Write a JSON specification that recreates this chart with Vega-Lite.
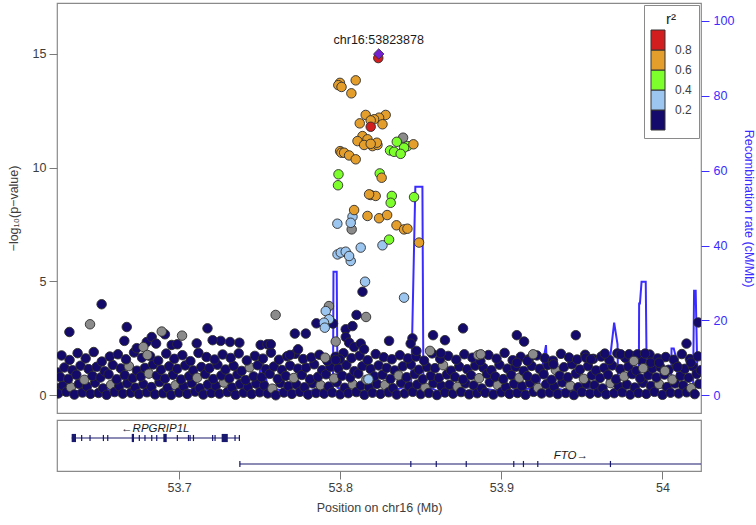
{
"$schema": "https://vega.github.io/schema/vega-lite/v6.json",
"padding": {"left": 6, "top": 2, "right": 0, "bottom": 0},
"spacing": 5,
"config": {
 "font": "Liberation Sans",
 "view": {"stroke": "#8a8a8a", "strokeWidth": 1.2},
 "axis": {"labelFontSize": 12.5, "titleFontSize": 12.5, "labelColor": "#3d3d3d", "titleColor": "#3d3d3d", "titleFontWeight": "normal", "tickColor": "#7a7a7a", "tickSize": 8, "grid": false, "domain": false, "labelFont": "Liberation Sans", "titleFont": "Liberation Sans"}
},
"datasets": {
 "recomb": [
  {"p":53.6242,"rate":1.0},{"p":53.6300,"rate":0.6},{"p":53.6400,"rate":1.4},{"p":53.6500,"rate":0.7},{"p":53.6600,"rate":1.8},{"p":53.6700,"rate":0.9},{"p":53.6800,"rate":1.3},{"p":53.6900,"rate":0.5},{"p":53.7000,"rate":2.2},{"p":53.7100,"rate":1.0},{"p":53.7200,"rate":1.6},{"p":53.7300,"rate":0.8},{"p":53.7400,"rate":2.4},{"p":53.7490,"rate":3.0},{"p":53.7513,"rate":9.7},{"p":53.7532,"rate":6.5},{"p":53.7550,"rate":2.0},{"p":53.7650,"rate":1.2},{"p":53.7750,"rate":0.8},{"p":53.7850,"rate":1.5},{"p":53.7955,"rate":1.8},{"p":53.7958,"rate":33.0},{"p":53.7978,"rate":33.0},{"p":53.7983,"rate":2.0},{"p":53.8050,"rate":1.0},{"p":53.8150,"rate":0.7},{"p":53.8250,"rate":0.9},{"p":53.8350,"rate":1.5},{"p":53.8440,"rate":3.0},{"p":53.8466,"rate":55.7},{"p":53.8510,"rate":55.7},{"p":53.8516,"rate":3.0},{"p":53.8600,"rate":1.2},{"p":53.8700,"rate":2.0},{"p":53.8800,"rate":1.0},{"p":53.8900,"rate":1.8},{"p":53.9000,"rate":0.9},{"p":53.9100,"rate":1.5},{"p":53.9230,"rate":2.0},{"p":53.9277,"rate":13.4},{"p":53.9287,"rate":2.5},{"p":53.9400,"rate":1.2},{"p":53.9550,"rate":2.0},{"p":53.9655,"rate":2.5},{"p":53.9700,"rate":19.4},{"p":53.9721,"rate":13.6},{"p":53.9724,"rate":3.0},{"p":53.9800,"rate":2.0},{"p":53.9853,"rate":2.5},{"p":53.9855,"rate":24.5},{"p":53.9860,"rate":24.5},{"p":53.9870,"rate":30.3},{"p":53.9896,"rate":30.3},{"p":53.9903,"rate":2.5},{"p":54.0000,"rate":2.0},{"p":54.0054,"rate":2.5},{"p":54.0056,"rate":12.5},{"p":54.0070,"rate":12.5},{"p":54.0089,"rate":9.2},{"p":54.0095,"rate":2.5},{"p":54.0150,"rate":2.0},{"p":54.0190,"rate":2.5},{"p":54.0196,"rate":27.9},{"p":54.0206,"rate":27.9},{"p":54.0218,"rate":2.5},{"p":54.0239,"rate":2.0}
 ],
 "snps": [
  {"p":53.6243,"l":0.30,"r":0.1},{"p":53.6245,"l":1.00,"r":0.1},
  {"p":53.6250,"l":0.08,"r":0.1},{"p":53.6278,"l":0.42,"r":0.1},{"p":53.6262,"l":0.80,"r":0.1},{"p":53.6288,"l":1.22,"r":0.1},{"p":53.6270,"l":1.75,"r":0.1},
  {"p":53.6300,"l":0.15,"r":0.1},{"p":53.6328,"l":0.35,"r":null},{"p":53.6312,"l":0.72,"r":0.1},{"p":53.6338,"l":1.10,"r":0.1},{"p":53.6320,"l":1.55,"r":0.1},
  {"p":53.6350,"l":0.03,"r":0.1},{"p":53.6378,"l":0.50,"r":0.1},{"p":53.6362,"l":0.90,"r":0.1},{"p":53.6388,"l":1.30,"r":0.1},{"p":53.6370,"l":1.85,"r":0.1},
  {"p":53.6400,"l":0.12,"r":0.1},{"p":53.6428,"l":0.38,"r":0.1},{"p":53.6412,"l":0.68,"r":null},{"p":53.6438,"l":1.15,"r":0.1},{"p":53.6420,"l":1.62,"r":0.1},
  {"p":53.6450,"l":0.06,"r":0.1},{"p":53.6478,"l":0.55,"r":0.1},{"p":53.6462,"l":0.85,"r":0.1},{"p":53.6488,"l":1.25,"r":0.1},{"p":53.6470,"l":1.90,"r":0.1},
  {"p":53.6500,"l":0.10,"r":0.1},{"p":53.6528,"l":0.30,"r":0.1},{"p":53.6512,"l":0.78,"r":0.1},{"p":53.6538,"l":1.05,"r":0.1},{"p":53.6520,"l":1.48,"r":0.1},
  {"p":53.6550,"l":0.02,"r":0.1},{"p":53.6578,"l":0.46,"r":null},{"p":53.6562,"l":0.92,"r":0.1},{"p":53.6588,"l":1.33,"r":0.1},{"p":53.6570,"l":1.70,"r":0.1},
  {"p":53.6600,"l":0.14,"r":0.1},{"p":53.6628,"l":0.40,"r":0.1},{"p":53.6612,"l":0.70,"r":0.1},{"p":53.6638,"l":1.18,"r":0.1},{"p":53.6620,"l":1.80,"r":0.1},
  {"p":53.6650,"l":0.07,"r":0.1},{"p":53.6678,"l":0.52,"r":0.1},{"p":53.6662,"l":0.88,"r":0.1},{"p":53.6688,"l":1.28,"r":null},{"p":53.6670,"l":1.58,"r":0.1},
  {"p":53.6700,"l":0.11,"r":0.1},{"p":53.6728,"l":0.33,"r":0.1},{"p":53.6712,"l":0.75,"r":0.1},{"p":53.6738,"l":1.08,"r":0.1},{"p":53.6720,"l":1.88,"r":0.1},
  {"p":53.6750,"l":0.05,"r":0.1},{"p":53.6778,"l":0.48,"r":0.1},{"p":53.6762,"l":0.82,"r":0.1},{"p":53.6788,"l":1.20,"r":0.1},{"p":53.6770,"l":1.65,"r":0.1},
  {"p":53.6800,"l":0.13,"r":0.1},{"p":53.6828,"l":0.36,"r":0.1},{"p":53.6812,"l":0.95,"r":null},{"p":53.6838,"l":1.35,"r":0.1},{"p":53.6820,"l":1.72,"r":0.1},
  {"p":53.6850,"l":0.04,"r":0.1},{"p":53.6878,"l":0.58,"r":0.1},{"p":53.6862,"l":0.86,"r":0.1},{"p":53.6888,"l":1.12,"r":0.1},{"p":53.6870,"l":1.52,"r":0.1},
  {"p":53.6900,"l":0.09,"r":0.1},{"p":53.6928,"l":0.32,"r":0.1},{"p":53.6912,"l":0.73,"r":0.1},{"p":53.6938,"l":1.27,"r":0.1},{"p":53.6920,"l":1.83,"r":0.1},
  {"p":53.6950,"l":0.01,"r":0.1},{"p":53.6978,"l":0.44,"r":null},{"p":53.6962,"l":0.90,"r":0.1},{"p":53.6988,"l":1.16,"r":0.1},{"p":53.6970,"l":1.60,"r":0.1},
  {"p":53.7000,"l":0.12,"r":0.1},{"p":53.7028,"l":0.39,"r":0.1},{"p":53.7012,"l":0.69,"r":0.1},{"p":53.7038,"l":1.31,"r":0.1},{"p":53.7020,"l":1.76,"r":0.1},
  {"p":53.7050,"l":0.06,"r":0.1},{"p":53.7078,"l":0.53,"r":0.1},{"p":53.7062,"l":0.84,"r":0.1},{"p":53.7088,"l":1.09,"r":0.1},{"p":53.7070,"l":1.50,"r":0.1},
  {"p":53.7100,"l":0.16,"r":0.1},{"p":53.7128,"l":0.31,"r":0.1},{"p":53.7112,"l":0.77,"r":null},{"p":53.7138,"l":1.24,"r":0.1},{"p":53.7120,"l":1.86,"r":0.1},
  {"p":53.7150,"l":0.03,"r":0.1},{"p":53.7178,"l":0.47,"r":0.1},{"p":53.7162,"l":0.93,"r":0.1},{"p":53.7188,"l":1.19,"r":0.1},{"p":53.7170,"l":1.68,"r":0.1},
  {"p":53.7200,"l":0.10,"r":0.1},{"p":53.7228,"l":0.41,"r":0.1},{"p":53.7212,"l":0.71,"r":0.1},{"p":53.7238,"l":1.34,"r":0.1},{"p":53.7220,"l":1.57,"r":0.1},
  {"p":53.7250,"l":0.07,"r":0.1},{"p":53.7278,"l":0.56,"r":null},{"p":53.7262,"l":0.87,"r":0.1},{"p":53.7288,"l":1.13,"r":0.1},{"p":53.7270,"l":1.79,"r":0.1},
  {"p":53.7300,"l":0.14,"r":0.1},{"p":53.7328,"l":0.34,"r":0.1},{"p":53.7312,"l":0.74,"r":0.1},{"p":53.7338,"l":1.29,"r":0.1},{"p":53.7320,"l":1.64,"r":0.1},
  {"p":53.7350,"l":0.02,"r":0.1},{"p":53.7378,"l":0.49,"r":0.1},{"p":53.7362,"l":0.91,"r":0.1},{"p":53.7388,"l":1.07,"r":0.1},{"p":53.7370,"l":1.84,"r":0.1},
  {"p":53.7400,"l":0.11,"r":0.1},{"p":53.7428,"l":0.37,"r":0.1},{"p":53.7412,"l":0.67,"r":0.1},{"p":53.7438,"l":1.23,"r":null},{"p":53.7420,"l":1.53,"r":0.1},
  {"p":53.7450,"l":0.05,"r":0.1},{"p":53.7478,"l":0.51,"r":0.1},{"p":53.7462,"l":0.83,"r":0.1},{"p":53.7488,"l":1.32,"r":0.1},{"p":53.7470,"l":1.73,"r":0.1},
  {"p":53.7500,"l":0.13,"r":0.1},{"p":53.7528,"l":0.43,"r":0.1},{"p":53.7512,"l":0.79,"r":0.1},{"p":53.7538,"l":1.14,"r":0.1},{"p":53.7520,"l":1.61,"r":0.1},
  {"p":53.7550,"l":0.08,"r":0.1},{"p":53.7578,"l":0.29,"r":null},{"p":53.7562,"l":0.94,"r":0.1},{"p":53.7588,"l":1.26,"r":0.1},{"p":53.7570,"l":1.87,"r":0.1},
  {"p":53.7600,"l":0.00,"r":0.1},{"p":53.7628,"l":0.54,"r":0.1},{"p":53.7612,"l":0.72,"r":0.1},{"p":53.7638,"l":1.11,"r":0.1},{"p":53.7620,"l":1.56,"r":0.1},
  {"p":53.7650,"l":0.12,"r":0.1},{"p":53.7678,"l":0.40,"r":0.1},{"p":53.7662,"l":0.85,"r":0.1},{"p":53.7688,"l":1.30,"r":0.1},{"p":53.7670,"l":1.71,"r":0.1},
  {"p":53.7700,"l":0.06,"r":0.1},{"p":53.7728,"l":0.47,"r":0.1},{"p":53.7712,"l":0.76,"r":null},{"p":53.7738,"l":1.17,"r":0.1},{"p":53.7720,"l":1.82,"r":0.1},
  {"p":53.7750,"l":0.15,"r":0.1},{"p":53.7778,"l":0.35,"r":0.1},{"p":53.7762,"l":0.89,"r":0.1},{"p":53.7788,"l":1.21,"r":0.1},{"p":53.7770,"l":1.59,"r":0.1},
  {"p":53.7800,"l":0.03,"r":0.1},{"p":53.7828,"l":0.52,"r":0.1},{"p":53.7812,"l":0.70,"r":0.1},{"p":53.7838,"l":1.36,"r":0.1},{"p":53.7820,"l":1.66,"r":0.1},
  {"p":53.7850,"l":0.10,"r":0.1},{"p":53.7878,"l":0.44,"r":null},{"p":53.7862,"l":0.81,"r":0.1},{"p":53.7888,"l":1.10,"r":0.1},{"p":53.7870,"l":1.78,"r":0.1},
  {"p":53.7900,"l":0.07,"r":0.1},{"p":53.7928,"l":0.38,"r":0.1},{"p":53.7912,"l":0.92,"r":0.1},{"p":53.7938,"l":1.25,"r":0.1},{"p":53.7920,"l":1.51,"r":0.1},
  {"p":53.7950,"l":0.12,"r":0.1},{"p":53.7978,"l":0.57,"r":0.1},{"p":53.7962,"l":0.74,"r":null},{"p":53.7988,"l":1.18,"r":0.1},{"p":53.7970,"l":1.69,"r":0.1},
  {"p":53.8000,"l":0.04,"r":0.1},{"p":53.8028,"l":0.33,"r":0.1},{"p":53.8012,"l":0.86,"r":0.1},{"p":53.8038,"l":1.33,"r":0.1},{"p":53.8020,"l":1.85,"r":0.1},
  {"p":53.8050,"l":0.09,"r":0.1},{"p":53.8078,"l":0.48,"r":null},{"p":53.8062,"l":0.78,"r":0.1},{"p":53.8088,"l":1.06,"r":0.1},{"p":53.8070,"l":1.63,"r":0.1},
  {"p":53.8100,"l":0.14,"r":0.1},{"p":53.8128,"l":0.42,"r":0.1},{"p":53.8112,"l":0.95,"r":0.1},{"p":53.8138,"l":1.28,"r":0.1},{"p":53.8120,"l":1.74,"r":0.1},
  {"p":53.8150,"l":0.02,"r":0.1},{"p":53.8178,"l":0.36,"r":0.1},{"p":53.8162,"l":0.68,"r":null},{"p":53.8188,"l":1.15,"r":0.1},{"p":53.8170,"l":1.54,"r":0.1},
  {"p":53.8200,"l":0.11,"r":0.1},{"p":53.8228,"l":0.50,"r":0.1},{"p":53.8212,"l":0.83,"r":0.1},{"p":53.8238,"l":1.31,"r":0.1},{"p":53.8220,"l":1.81,"r":0.1},
  {"p":53.8250,"l":0.06,"r":0.1},{"p":53.8278,"l":0.45,"r":null},{"p":53.8262,"l":0.90,"r":0.1},{"p":53.8288,"l":1.20,"r":0.1},{"p":53.8270,"l":1.67,"r":0.1},
  {"p":53.8300,"l":0.13,"r":0.1},{"p":53.8328,"l":0.31,"r":0.1},{"p":53.8312,"l":0.72,"r":0.1},{"p":53.8338,"l":1.09,"r":0.1},{"p":53.8320,"l":1.58,"r":0.1},
  {"p":53.8350,"l":0.03,"r":0.1},{"p":53.8378,"l":0.55,"r":0.1},{"p":53.8362,"l":0.87,"r":null},{"p":53.8388,"l":1.27,"r":0.1},{"p":53.8370,"l":1.76,"r":0.1},
  {"p":53.8400,"l":0.08,"r":0.1},{"p":53.8428,"l":0.39,"r":0.1},{"p":53.8412,"l":0.79,"r":0.1},{"p":53.8438,"l":1.35,"r":0.1},{"p":53.8420,"l":1.62,"r":0.1},
  {"p":53.8450,"l":0.15,"r":0.1},{"p":53.8478,"l":0.47,"r":0.1},{"p":53.8462,"l":0.93,"r":0.1},{"p":53.8488,"l":1.12,"r":0.1},{"p":53.8470,"l":1.70,"r":0.1},
  {"p":53.8500,"l":0.05,"r":0.1},{"p":53.8528,"l":0.34,"r":null},{"p":53.8512,"l":0.70,"r":0.1},{"p":53.8538,"l":1.24,"r":0.1},{"p":53.8520,"l":1.52,"r":0.1},
  {"p":53.8550,"l":0.10,"r":0.1},{"p":53.8578,"l":0.53,"r":0.1},{"p":53.8562,"l":0.85,"r":0.1},{"p":53.8588,"l":1.19,"r":0.1},{"p":53.8570,"l":1.84,"r":0.1},
  {"p":53.8600,"l":0.01,"r":0.1},{"p":53.8628,"l":0.41,"r":0.1},{"p":53.8612,"l":0.76,"r":0.1},{"p":53.8638,"l":1.32,"r":null},{"p":53.8620,"l":1.60,"r":0.1},
  {"p":53.8650,"l":0.12,"r":0.1},{"p":53.8678,"l":0.46,"r":0.1},{"p":53.8662,"l":0.91,"r":0.1},{"p":53.8688,"l":1.08,"r":0.1},{"p":53.8670,"l":1.73,"r":0.1},
  {"p":53.8700,"l":0.07,"r":0.1},{"p":53.8728,"l":0.37,"r":null},{"p":53.8712,"l":0.80,"r":0.1},{"p":53.8738,"l":1.26,"r":0.1},{"p":53.8720,"l":1.56,"r":0.1},
  {"p":53.8750,"l":0.14,"r":0.1},{"p":53.8778,"l":0.52,"r":0.1},{"p":53.8762,"l":0.69,"r":0.1},{"p":53.8788,"l":1.14,"r":0.1},{"p":53.8770,"l":1.80,"r":0.1},
  {"p":53.8800,"l":0.04,"r":0.1},{"p":53.8828,"l":0.43,"r":0.1},{"p":53.8812,"l":0.88,"r":0.1},{"p":53.8838,"l":1.30,"r":0.1},{"p":53.8820,"l":1.65,"r":0.1},
  {"p":53.8850,"l":0.09,"r":0.1},{"p":53.8878,"l":0.30,"r":0.1},{"p":53.8862,"l":0.75,"r":null},{"p":53.8888,"l":1.21,"r":0.1},{"p":53.8870,"l":1.50,"r":0.1},
  {"p":53.8900,"l":0.11,"r":0.1},{"p":53.8928,"l":0.57,"r":0.1},{"p":53.8912,"l":0.94,"r":0.1},{"p":53.8938,"l":1.10,"r":0.1},{"p":53.8920,"l":1.77,"r":0.1},
  {"p":53.8950,"l":0.03,"r":0.1},{"p":53.8978,"l":0.45,"r":null},{"p":53.8962,"l":0.82,"r":0.1},{"p":53.8988,"l":1.34,"r":0.1},{"p":53.8970,"l":1.61,"r":0.1},
  {"p":53.9000,"l":0.13,"r":0.1},{"p":53.9028,"l":0.35,"r":0.1},{"p":53.9012,"l":0.71,"r":0.1},{"p":53.9038,"l":1.17,"r":0.1},{"p":53.9020,"l":1.86,"r":0.1},
  {"p":53.9050,"l":0.06,"r":0.1},{"p":53.9078,"l":0.50,"r":0.1},{"p":53.9062,"l":0.89,"r":0.1},{"p":53.9088,"l":1.25,"r":0.1},{"p":53.9070,"l":1.54,"r":0.1},
  {"p":53.9100,"l":0.10,"r":0.1},{"p":53.9128,"l":0.40,"r":0.1},{"p":53.9112,"l":0.77,"r":null},{"p":53.9138,"l":1.07,"r":0.1},{"p":53.9120,"l":1.69,"r":0.1},
  {"p":53.9150,"l":0.02,"r":0.1},{"p":53.9178,"l":0.54,"r":0.1},{"p":53.9162,"l":0.84,"r":0.1},{"p":53.9188,"l":1.29,"r":0.1},{"p":53.9170,"l":1.58,"r":0.1},
  {"p":53.9200,"l":0.15,"r":0.1},{"p":53.9228,"l":0.32,"r":null},{"p":53.9212,"l":0.73,"r":0.1},{"p":53.9238,"l":1.16,"r":0.1},{"p":53.9220,"l":1.75,"r":0.1},
  {"p":53.9250,"l":0.08,"r":0.1},{"p":53.9278,"l":0.48,"r":0.1},{"p":53.9262,"l":0.92,"r":0.1},{"p":53.9288,"l":1.33,"r":0.1},{"p":53.9270,"l":1.63,"r":0.1},
  {"p":53.9300,"l":0.12,"r":0.1},{"p":53.9328,"l":0.38,"r":0.1},{"p":53.9312,"l":0.68,"r":0.1},{"p":53.9338,"l":1.11,"r":null},{"p":53.9320,"l":1.52,"r":0.1},
  {"p":53.9350,"l":0.05,"r":0.1},{"p":53.9378,"l":0.56,"r":0.1},{"p":53.9362,"l":0.86,"r":0.1},{"p":53.9388,"l":1.23,"r":0.1},{"p":53.9370,"l":1.82,"r":0.1},
  {"p":53.9400,"l":0.10,"r":0.1},{"p":53.9428,"l":0.42,"r":null},{"p":53.9412,"l":0.79,"r":0.1},{"p":53.9438,"l":1.36,"r":0.1},{"p":53.9420,"l":1.66,"r":0.1},
  {"p":53.9450,"l":0.01,"r":0.1},{"p":53.9478,"l":0.35,"r":0.1},{"p":53.9462,"l":0.95,"r":0.1},{"p":53.9488,"l":1.13,"r":0.1},{"p":53.9470,"l":1.57,"r":0.1},
  {"p":53.9500,"l":0.14,"r":0.1},{"p":53.9528,"l":0.51,"r":0.1},{"p":53.9512,"l":0.72,"r":null},{"p":53.9538,"l":1.28,"r":0.1},{"p":53.9520,"l":1.78,"r":0.1},
  {"p":53.9550,"l":0.07,"r":0.1},{"p":53.9578,"l":0.44,"r":0.1},{"p":53.9562,"l":0.87,"r":0.1},{"p":53.9588,"l":1.09,"r":0.1},{"p":53.9570,"l":1.60,"r":0.1},
  {"p":53.9600,"l":0.11,"r":0.1},{"p":53.9628,"l":0.30,"r":0.1},{"p":53.9612,"l":0.76,"r":0.1},{"p":53.9638,"l":1.20,"r":0.1},{"p":53.9620,"l":1.70,"r":0.1},
  {"p":53.9650,"l":0.04,"r":0.1},{"p":53.9678,"l":0.53,"r":null},{"p":53.9662,"l":0.90,"r":0.1},{"p":53.9688,"l":1.31,"r":0.1},{"p":53.9670,"l":1.55,"r":0.1},
  {"p":53.9700,"l":0.09,"r":0.1},{"p":53.9728,"l":0.39,"r":0.1},{"p":53.9712,"l":0.70,"r":0.1},{"p":53.9738,"l":1.15,"r":0.1},{"p":53.9720,"l":1.84,"r":0.1},
  {"p":53.9750,"l":0.13,"r":0.1},{"p":53.9778,"l":0.47,"r":0.1},{"p":53.9762,"l":0.83,"r":null},{"p":53.9788,"l":1.26,"r":0.1},{"p":53.9770,"l":1.64,"r":0.1},
  {"p":53.9800,"l":0.03,"r":0.1},{"p":53.9828,"l":0.34,"r":0.1},{"p":53.9812,"l":0.93,"r":0.1},{"p":53.9838,"l":1.08,"r":0.1},{"p":53.9820,"l":1.72,"r":0.1},
  {"p":53.9850,"l":0.10,"r":0.1},{"p":53.9878,"l":0.55,"r":0.1},{"p":53.9862,"l":0.74,"r":0.1},{"p":53.9888,"l":1.34,"r":null},{"p":53.9870,"l":1.53,"r":0.1},
  {"p":53.9900,"l":0.06,"r":0.1},{"p":53.9928,"l":0.41,"r":0.1},{"p":53.9912,"l":0.88,"r":0.1},{"p":53.9938,"l":1.18,"r":0.1},{"p":53.9920,"l":1.79,"r":0.1},
  {"p":53.9950,"l":0.15,"r":0.1},{"p":53.9978,"l":0.49,"r":null},{"p":53.9962,"l":0.78,"r":0.1},{"p":53.9988,"l":1.22,"r":0.1},{"p":53.9970,"l":1.62,"r":0.1},
  {"p":54.0000,"l":0.02,"r":0.1},{"p":54.0028,"l":0.36,"r":0.1},{"p":54.0012,"l":0.91,"r":0.1},{"p":54.0038,"l":1.12,"r":0.1},{"p":54.0020,"l":1.68,"r":0.1},
  {"p":54.0050,"l":0.11,"r":0.1},{"p":54.0078,"l":0.52,"r":0.1},{"p":54.0062,"l":0.69,"r":null},{"p":54.0088,"l":1.30,"r":0.1},{"p":54.0070,"l":1.56,"r":0.1},
  {"p":54.0100,"l":0.08,"r":0.1},{"p":54.0128,"l":0.43,"r":0.1},{"p":54.0112,"l":0.85,"r":0.1},{"p":54.0138,"l":1.16,"r":0.1},{"p":54.0120,"l":1.81,"r":0.1},
  {"p":54.0150,"l":0.13,"r":0.1},{"p":54.0178,"l":0.31,"r":null},{"p":54.0162,"l":0.77,"r":0.1},{"p":54.0188,"l":1.27,"r":0.1},{"p":54.0170,"l":1.59,"r":0.1},
  {"p":54.0200,"l":0.05,"r":0.1},{"p":54.0228,"l":0.50,"r":0.1},{"p":54.0212,"l":0.94,"r":0.1},{"p":54.0238,"l":1.10,"r":0.1},{"p":54.0220,"l":1.71,"r":0.1},
  {"p":53.6519,"l":4.00,"r":0.1},{"p":53.6319,"l":2.78,"r":0.1},{"p":53.6675,"l":3.00,"r":0.1},{"p":53.6912,"l":2.68,"r":0.1},{"p":53.7176,"l":2.94,"r":0.1},{"p":53.7109,"l":2.28,"r":0.1},{"p":53.7374,"l":2.31,"r":0.1},{"p":53.7316,"l":2.34,"r":0.1},{"p":53.7258,"l":2.39,"r":0.1},{"p":53.7208,"l":2.42,"r":0.1},{"p":53.6660,"l":2.39,"r":0.1},{"p":53.6737,"l":2.07,"r":0.1},{"p":53.6799,"l":2.34,"r":0.1},{"p":53.6830,"l":2.56,"r":0.1},{"p":53.6857,"l":2.27,"r":0.1},{"p":53.6954,"l":2.21,"r":0.1},{"p":53.6989,"l":2.24,"r":0.1},{"p":53.7506,"l":2.21,"r":0.1},{"p":53.7548,"l":2.24,"r":0.1},
  {"p":53.8101,"l":3.53,"r":0.1},{"p":53.7852,"l":3.16,"r":0.1},{"p":53.7955,"l":3.15,"r":0.1},{"p":53.7718,"l":2.71,"r":0.1},{"p":53.7786,"l":2.71,"r":0.1},{"p":53.8034,"l":2.90,"r":0.1},{"p":53.8076,"l":3.04,"r":0.1},{"p":53.8034,"l":2.56,"r":0.1},{"p":53.8055,"l":2.31,"r":0.1},{"p":53.8086,"l":2.12,"r":0.1},{"p":53.8127,"l":2.27,"r":0.1},{"p":53.8148,"l":2.02,"r":0.1},{"p":53.8303,"l":2.39,"r":0.1},{"p":53.8448,"l":2.50,"r":0.1},{"p":53.8437,"l":2.27,"r":0.1},{"p":53.8473,"l":1.95,"r":0.1},{"p":53.8576,"l":2.64,"r":0.1},{"p":53.8650,"l":2.42,"r":0.1},{"p":53.8624,"l":1.85,"r":0.1},{"p":53.8762,"l":2.94,"r":0.1},{"p":53.7997,"l":1.58,"r":0.1},{"p":53.7972,"l":1.55,"r":0.1},{"p":53.7738,"l":2.02,"r":0.1},{"p":53.7688,"l":1.77,"r":0.1},{"p":53.7569,"l":2.24,"r":0.1},
  {"p":53.9096,"l":2.64,"r":0.1},{"p":53.9141,"l":2.36,"r":0.1},{"p":53.9462,"l":2.64,"r":0.1},{"p":53.9323,"l":1.36,"r":0.1},{"p":54.0149,"l":2.27,"r":0.1},{"p":54.0176,"l":1.43,"r":0.1},{"p":53.9524,"l":1.65,"r":0.1},{"p":53.9555,"l":1.58,"r":0.1},{"p":53.9642,"l":1.83,"r":0.1},{"p":53.9741,"l":1.80,"r":0.1},{"p":53.9793,"l":1.80,"r":0.1},{"p":53.9845,"l":1.80,"r":0.1},{"p":53.9892,"l":1.83,"r":0.1},{"p":53.9927,"l":1.43,"r":0.1},{"p":53.9979,"l":1.43,"r":0.1},{"p":53.9096,"l":1.43,"r":0.1},{"p":53.9162,"l":1.51,"r":0.1},{"p":54.0093,"l":1.24,"r":0.1},{"p":54.0222,"l":3.20,"r":0.1},{"p":53.8138,"l":4.55,"r":0.1},
  {"p":53.6447,"l":3.12,"r":null},{"p":53.6892,"l":2.80,"r":null},{"p":53.7018,"l":2.62,"r":null},{"p":53.6778,"l":2.12,"r":null},{"p":53.6803,"l":1.77,"r":null},{"p":53.7599,"l":3.53,"r":null},{"p":53.7930,"l":3.92,"r":null},{"p":53.8160,"l":3.44,"r":null},{"p":53.7972,"l":2.36,"r":null},{"p":53.8557,"l":1.95,"r":null},{"p":53.8855,"l":1.76,"r":null},{"p":53.7906,"l":1.65,"r":null},{"p":53.9197,"l":1.80,"r":null},{"p":53.8872,"l":1.80,"r":null},{"p":53.9823,"l":1.51,"r":null},{"p":53.9880,"l":1.19,"r":null},{"p":54.0015,"l":1.07,"r":null},{"p":53.8071,"l":7.29,"r":null},{"p":53.8390,"l":11.32,"r":null},
  {"p":53.8065,"l":5.90,"r":0.3},{"p":53.7983,"l":6.19,"r":0.3},{"p":53.8003,"l":6.27,"r":0.3},{"p":53.8034,"l":6.31,"r":0.3},{"p":53.8055,"l":6.12,"r":0.3},{"p":53.8076,"l":7.85,"r":0.3},{"p":53.7982,"l":7.54,"r":0.3},{"p":53.8065,"l":7.58,"r":0.3},{"p":53.8262,"l":6.59,"r":0.3},{"p":53.8127,"l":6.49,"r":0.3},{"p":53.8154,"l":4.99,"r":0.3},{"p":53.8396,"l":4.29,"r":0.3},{"p":53.7910,"l":3.70,"r":0.3},{"p":53.7930,"l":3.34,"r":0.3},{"p":53.7899,"l":3.19,"r":0.3},{"p":53.7904,"l":2.97,"r":0.3},{"p":53.8175,"l":0.70,"r":0.3},
  {"p":53.8351,"l":11.14,"r":0.5},{"p":53.8417,"l":10.95,"r":0.5},{"p":53.8396,"l":10.88,"r":0.5},{"p":53.8309,"l":10.76,"r":0.5},{"p":53.8334,"l":10.70,"r":0.5},{"p":53.8375,"l":10.61,"r":0.5},{"p":53.7989,"l":9.71,"r":0.5},{"p":53.7986,"l":9.23,"r":0.5},{"p":53.8245,"l":9.75,"r":0.5},{"p":53.8320,"l":8.76,"r":0.5},{"p":53.8313,"l":8.46,"r":0.5},{"p":53.8458,"l":8.71,"r":0.5},{"p":53.8303,"l":6.84,"r":0.5},
  {"p":53.8096,"l":13.84,"r":0.7},{"p":53.7998,"l":13.73,"r":0.7},{"p":53.7988,"l":13.63,"r":0.7},{"p":53.8008,"l":13.55,"r":0.7},{"p":53.8069,"l":13.27,"r":0.7},{"p":53.8158,"l":12.32,"r":0.7},{"p":53.8282,"l":12.32,"r":0.7},{"p":53.8241,"l":12.20,"r":0.7},{"p":53.8210,"l":12.13,"r":0.7},{"p":53.8189,"l":12.08,"r":0.7},{"p":53.8121,"l":11.95,"r":0.7},{"p":53.8262,"l":11.91,"r":0.7},
  {"p":53.8138,"l":11.39,"r":0.7},{"p":53.8169,"l":11.25,"r":0.7},{"p":53.8107,"l":11.17,"r":0.7},{"p":53.8148,"l":11.00,"r":0.7},{"p":53.8200,"l":10.95,"r":0.7},{"p":53.8231,"l":11.00,"r":0.7},{"p":53.8227,"l":11.10,"r":0.7},{"p":53.8189,"l":11.05,"r":0.7},{"p":53.8454,"l":11.03,"r":0.7},{"p":53.7999,"l":10.73,"r":0.7},{"p":53.8007,"l":10.66,"r":0.7},{"p":53.8024,"l":10.66,"r":0.7},{"p":53.8055,"l":10.54,"r":0.7},{"p":53.8096,"l":10.37,"r":0.7},{"p":53.8257,"l":9.56,"r":0.7},{"p":53.8189,"l":8.80,"r":0.7},{"p":53.8220,"l":8.76,"r":0.7},{"p":53.8179,"l":8.83,"r":0.7},{"p":53.8086,"l":8.14,"r":0.7},{"p":53.8169,"l":7.88,"r":0.7},{"p":53.8241,"l":7.78,"r":0.7},{"p":53.8291,"l":7.92,"r":0.7},{"p":53.8349,"l":7.47,"r":0.7},{"p":53.8396,"l":7.29,"r":0.7},{"p":53.8417,"l":7.32,"r":0.7},{"p":53.8489,"l":6.71,"r":0.7},
  {"p":53.8189,"l":11.80,"r":0.9},{"p":53.8236,"l":14.82,"r":0.9}
 ],
 "genes": [
  {"gene":"RPGRIP1L","s":53.6333,"e":53.7376,"y":0.647},
  {"gene":"FTO","s":53.7376,"e":54.0239,"y":0.137}
 ],
 "exonTicks": [
  {"x":53.6395,"y":0.647},{"x":53.6447,"y":0.647},{"x":53.6530,"y":0.647},{"x":53.6557,"y":0.647},{"x":53.6753,"y":0.647},{"x":53.6788,"y":0.647},{"x":53.6830,"y":0.647},{"x":53.6861,"y":0.647},{"x":53.6989,"y":0.647},{"x":53.7058,"y":0.647},{"x":53.7068,"y":0.647},{"x":53.7089,"y":0.647},{"x":53.7208,"y":0.647},{"x":53.7223,"y":0.647},{"x":53.7347,"y":0.647},{"x":53.7374,"y":0.647},
  {"x":53.7377,"y":0.137},{"x":53.8438,"y":0.137},{"x":53.8596,"y":0.137},{"x":53.8782,"y":0.137},{"x":53.9077,"y":0.137},{"x":53.9137,"y":0.137},{"x":53.9226,"y":0.137},{"x":53.9677,"y":0.137}
 ],
 "exonBlocks": [
  {"s":53.6333,"e":53.6360,"y":0.647},{"s":53.6706,"e":53.6720,"y":0.647},{"s":53.6902,"e":53.6923,"y":0.647},{"s":53.7264,"e":53.7302,"y":0.647}
 ],
 "geneLabels": [
  {"x":53.6852,"y":0.82,"t":"←RPGRIP1L"},
  {"x":53.9431,"y":0.30,"t":"FTO→"}
 ]
},
"vconcat": [
 {
  "width": 644, "height": 410,
  "layer": [
   {
    "data": {"name": "recomb"},
    "mark": {"type": "line", "color": "#3a2cff", "strokeWidth": 2, "clip": true},
    "encoding": {
     "x": {"field": "p", "type": "quantitative", "scale": {"domain": [53.6242, 54.0239], "nice": false, "zero": false}, "axis": null},
     "y": {"field": "rate", "type": "quantitative", "scale": {"domain": [-4.73, 104.8], "nice": false, "zero": false},
           "axis": {"orient": "right", "values": [0, 20, 40, 60, 80, 100], "title": "Recombination rate (cM/Mb)", "titleColor": "#3a2cff", "labelColor": "#3a2cff", "tickColor": "#3a2cff", "labelPadding": 4, "titlePadding": 8}}
    }
   },
   {
    "data": {"name": "snps"},
    "mark": {"type": "circle", "size": 90, "stroke": "#2e2e2e", "strokeWidth": 0.9, "opacity": 1, "clip": true, "invalid": "show"},
    "encoding": {
     "x": {"field": "p", "type": "quantitative", "scale": {"domain": [53.6242, 54.0239], "nice": false, "zero": false}, "axis": null},
     "y": {"field": "l", "type": "quantitative", "scale": {"domain": [-0.78, 17.24], "nice": false, "zero": false},
           "axis": {"orient": "left", "values": [0, 5, 10, 15], "title": "−log₁₀(p−value)", "labelPadding": 3, "titlePadding": 12}},
     "color": {
      "condition": {"test": "datum.r === null", "value": "#8b8b8b"},
      "field": "r", "type": "quantitative",
      "scale": {"type": "threshold", "domain": [0.2, 0.4, 0.6, 0.8], "range": ["#140a6b", "#9cc6f0", "#7dff2c", "#e49e2c", "#d21e1e"]},
      "legend": {"title": "r²", "type": "gradient", "orient": "top-right", "offset": 2, "direction": "vertical", "gradientLength": 100, "gradientThickness": 14, "gradientStrokeColor": "#333333", "gradientStrokeWidth": 1, "padding": 7, "strokeColor": "#8a8a8a", "fillColor": "white", "titleFontSize": 15, "titleFontWeight": "normal", "titleColor": "#222222", "titleAnchor": "middle", "titlePadding": 3, "labelFontSize": 12, "labelColor": "#3d3d3d", "labelOffset": 10}
     }
    }
   },
   {
    "data": {"values": [{"p": 53.823878, "l": 15.0, "lab": "chr16:53823878"}]},
    "encoding": {
     "x": {"field": "p", "type": "quantitative", "scale": {"domain": [53.6242, 54.0239], "nice": false, "zero": false}, "axis": null},
     "y": {"field": "l", "type": "quantitative", "scale": {"domain": [-0.78, 17.24], "nice": false, "zero": false}, "axis": null}
    },
    "layer": [
     {"mark": {"type": "point", "shape": "diamond", "filled": true, "size": 110, "color": "#7420d0", "stroke": "#2e2e2e", "strokeWidth": 0.8, "opacity": 1}},
     {"mark": {"type": "text", "baseline": "bottom", "dy": -7, "fontSize": 12.5, "color": "#1a1a1a"}, "encoding": {"text": {"field": "lab"}}}
    ]
   }
  ],
  "resolve": {"scale": {"y": "independent"}, "axis": {"y": "independent"}}
 },
 {
  "width": 644, "height": 51,
  "layer": [
   {
    "data": {"name": "genes"},
    "mark": {"type": "rule", "color": "#18186f", "strokeWidth": 1.2, "clip": true},
    "encoding": {
     "x": {"field": "s", "type": "quantitative", "scale": {"domain": [53.6242, 54.0239], "nice": false, "zero": false},
           "axis": {"values": [53.7, 53.8, 53.9, 54], "format": "~g", "title": "Position on chr16 (Mb)", "labelPadding": 2, "titlePadding": 8}},
     "x2": {"field": "e"},
     "y": {"field": "y", "type": "quantitative", "scale": {"domain": [0, 1], "nice": false, "zero": false}, "axis": null}
    }
   },
   {
    "data": {"name": "exonTicks"},
    "transform": [{"calculate": "datum.y - 0.06", "as": "y0"}, {"calculate": "datum.y + 0.06", "as": "y1"}],
    "mark": {"type": "rule", "color": "#18186f", "strokeWidth": 1.2},
    "encoding": {
     "x": {"field": "x", "type": "quantitative"},
     "y": {"field": "y0", "type": "quantitative"},
     "y2": {"field": "y1"}
    }
   },
   {
    "data": {"name": "exonBlocks"},
    "transform": [{"calculate": "datum.y - 0.08", "as": "y0"}, {"calculate": "datum.y + 0.08", "as": "y1"}],
    "mark": {"type": "rect", "color": "#18186f"},
    "encoding": {
     "x": {"field": "s", "type": "quantitative"},
     "x2": {"field": "e"},
     "y": {"field": "y0", "type": "quantitative"},
     "y2": {"field": "y1"}
    }
   },
   {
    "data": {"name": "geneLabels"},
    "mark": {"type": "text", "fontStyle": "italic", "fontSize": 11.5, "color": "#1a1a1a"},
    "encoding": {
     "x": {"field": "x", "type": "quantitative"},
     "y": {"field": "y", "type": "quantitative"},
     "text": {"field": "t"}
    }
   }
  ]
 }
]
}
